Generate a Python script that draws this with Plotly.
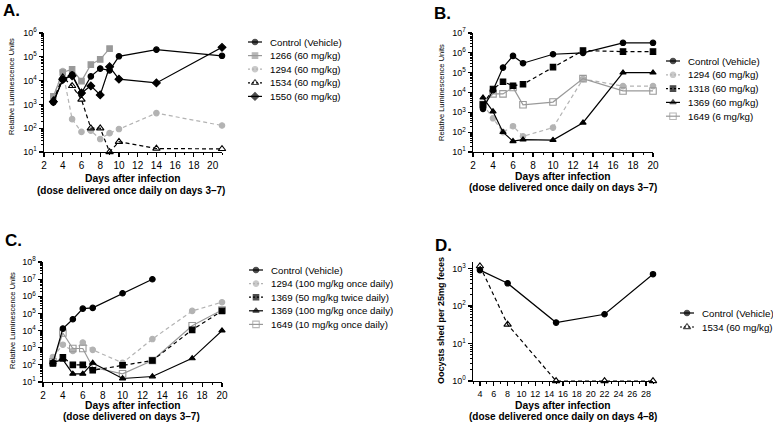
import plotly.graph_objects as go

W, H = 773, 422
FONT = "Liberation Sans, Arial, sans-serif"

# ---------------- Data ----------------
# Panel A
A_days = [3, 4, 5, 6, 7, 8, 9, 10, 14, 21]
A_days_1266 = [3, 4, 5, 6, 7, 8, 9]
A_ctrl = [1.2e3, 1.1e4, 1.8e4, 3.0e3, 1.5e4, 3.2e4, 2.7e4, 1.05e5, 2.0e5, 1.1e5]
A_1266 = [2.2e3, 2.2e4, 3.0e4, 9.5e3, 4.7e4, 7.8e4, 2.2e5]
A_1294 = [2.0e3, 2.5e4, 2.4e2, 70, 78, 35, 62, 92, 430, 130]
A_1534 = [1.5e3, 1.4e4, 6.0e3, 1.6e3, 100, 100, 10, 27, 14, 13.5]
A_1550 = [1.3e3, 1.1e4, 1.6e4, 3.0e3, 6.0e3, 2.5e3, 3.8e4, 1.15e4, 8.0e3, 2.5e5]

# Panel B
B_days = [3, 4, 5, 6, 7, 10, 13, 17, 20]
B_ctrl = [1.5e3, 1.3e4, 1.8e5, 7.0e5, 3.0e5, 8.5e5, 1.0e6, 3.2e6, 3.2e6]
B_1294 = [2.5e3, 5.0e2, 1.0e2, 2.0e2, 62, 1.7e2, 4.8e4, 2.1e4, 2.1e4]
B_1318 = [2.5e3, 1.5e4, 3.5e4, 2.2e4, 2.6e4, 1.9e5, 1.3e6, 1.15e6, 1.15e6]
B_1369 = [5.5e3, 1.1e3, 1.0e2, 35, 42, 40, 3.0e2, 1.0e5, 1.0e5]
B_1649 = [2.5e3, 8.5e3, 8.5e3, 1.8e4, 2.4e3, 3.3e3, 5.0e4, 1.2e4, 1.2e4]

# Panel C
C_days = [3, 4, 5, 6, 7, 10, 13, 17, 20]
C_days_ctrl = [3, 4, 5, 6, 7, 10, 13]
C_ctrl = [1.3e2, 1.3e4, 4.6e4, 1.9e5, 2.1e5, 1.5e6, 9.8e6]
C_1294 = [2.9e2, 1.5e3, 6.5e2, 2.0e3, 7.5e2, 1.3e2, 3.2e3, 1.4e5, 4.5e5]
C_1369_50 = [1.2e2, 2.8e2, 1.0e2, 1.0e2, 48, 95, 1.8e2, 1.1e4, 1.4e5]
C_1369_100 = [1.4e2, 2.0e2, 30, 30, 1.3e2, 16, 21, 2.4e2, 1.0e4]
C_1649 = [1.5e2, 7.2e3, 9.0e2, 9.0e2, 72, 30, 1.8e2, 1.9e4, 1.6e5]

# Panel D
D_days = [4, 8, 15, 22, 29]
D_ctrl = [900, 400, 36, 60, 700]
D_1534 = [1150, 32, 1, 1, 1]

# Tick labels
Y_EXP_A = [1, 2, 3, 4, 5, 6]
Y_EXP_B = [1, 2, 3, 4, 5, 6, 7]
Y_EXP_C = [1, 2, 3, 4, 5, 6, 7, 8]
Y_EXP_D = [0, 1, 2, 3]

# Legend labels
LEG_A = ["Control (Vehicle)", "1266 (60 mg/kg)", "1294 (60 mg/kg)", "1534 (60 mg/kg)", "1550 (60 mg/kg)"]
LEG_B = ["Control (Vehicle)", "1294 (60 mg/kg)", "1318 (60 mg/kg)", "1369 (60 mg/kg)", "1649 (6 mg/kg)"]
LEG_C = ["Control (Vehicle)", "1294 (100 mg/kg once daily)", "1369 (50 mg/kg twice daily)",
         "1369 (100 mg/kg once daily)", "1649 (10 mg/kg once daily)"]
LEG_D = ["Control (Vehicle)", "1534 (60 mg/kg)"]

# ---------------- Styles ----------------
DASH = "4px,3px"
GREY1 = "#999999"
GREY2 = "#b3b3b3"
S_CTRL = dict(color="black", symbol="circle", dash="solid", size=5.5)
S_GSQ = dict(color=GREY1, symbol="square", dash="solid", size=5.5)
S_GCI = dict(color=GREY2, symbol="circle", dash=DASH, size=5.5)
S_OTRI = dict(color="black", symbol="triangle-up-open", dash=DASH, size=6.5)
S_DIA = dict(color="black", symbol="diamond", dash="solid", size=6)
S_BSQ = dict(color="black", symbol="square", dash=DASH, size=5.5)
S_BTRI = dict(color="black", symbol="triangle-up", dash="solid", size=5.5)
S_GOSQ = dict(color=GREY1, symbol="square-open", dash="solid", size=6.5)

fig = go.Figure()


def add(x, y, s, ax):
    xa = "x" if ax == 1 else f"x{ax}"
    ya = "y" if ax == 1 else f"y{ax}"
    fig.add_trace(go.Scatter(
        x=x, y=y, mode="lines+markers", xaxis=xa, yaxis=ya, showlegend=False,
        cliponaxis=False,
        line=dict(color=s["color"], width=1.2, dash=s["dash"]),
        marker=dict(color=s["color"], symbol=s["symbol"], size=s["size"],
                    line=dict(width=1.1, color=s["color"]))))


# Panel A
add(A_days, A_1294, S_GCI, 1)
add(A_days_1266, A_1266, S_GSQ, 1)
add(A_days, A_1534, S_OTRI, 1)
add(A_days, A_1550, S_DIA, 1)
add(A_days, A_ctrl, S_CTRL, 1)
# Panel B
add(B_days, B_1294, S_GCI, 2)
add(B_days, B_1649, S_GOSQ, 2)
add(B_days, B_1318, S_BSQ, 2)
add(B_days, B_1369, S_BTRI, 2)
add(B_days, B_ctrl, S_CTRL, 2)
# Panel C
add(C_days, C_1294, S_GCI, 3)
add(C_days, C_1649, S_GOSQ, 3)
add(C_days, C_1369_50, S_BSQ, 3)
add(C_days, C_1369_100, S_BTRI, 3)
add(C_days_ctrl, C_ctrl, S_CTRL, 3)
# Panel D
add(D_days, D_1534, S_OTRI, 4)
add(D_days, D_ctrl, S_CTRL, 4)


def px(x):
    return x / W


def py(y):
    return 1 - y / H


# ---------------- Axes ----------------
def common():
    return dict(showline=True, linecolor="black", linewidth=1.4, ticks="outside",
                ticklen=4, tickwidth=1.2, tickcolor="black", showgrid=False,
                zeroline=False, automargin=False,
                tickfont=dict(size=10, color="black", family=FONT))


def xax(dom, rng, anchor, fsize=10):
    d = common()
    d.update(domain=[px(dom[0]), px(dom[1])], range=rng, tickmode="linear",
             tick0=0, dtick=2, anchor=anchor,
             tickfont=dict(size=fsize, color="black", family=FONT),
             minor=dict(ticks="outside", ticklen=2, tickwidth=1, tickcolor="black",
                        tickmode="linear", tick0=0, dtick=1))
    return d


def yax(dom, exps, rng, anchor):
    d = common()
    minor_vals = [m * 10 ** e for e in exps[:-1] for m in range(2, 10)]
    d.update(domain=[py(dom[1]), py(dom[0])], type="log", range=rng, anchor=anchor,
             tickmode="array", tickvals=[10 ** e for e in exps],
             ticktext=[f"10<sup>{e}</sup>" for e in exps],
             tickfont=dict(size=9, color="black", family=FONT),
             minor=dict(ticks="outside", ticklen=2, tickwidth=1, tickcolor="black",
                        tickmode="array", tickvals=minor_vals))
    return d


PA = (44, 222, 33, 152)
PB = (473, 653, 33, 152)
PC = (43, 222, 262, 382)
PD = (473, 653, 262, 381)

fig.update_layout(
    template="none",
    hovermode=False,
    xaxis=xax(PA[:2], [2, 21], "y"),
    yaxis=yax(PA[2:], Y_EXP_A, [1, 6], "x"),
    xaxis2=xax(PB[:2], [2, 20], "y2"),
    yaxis2=yax(PB[2:], Y_EXP_B, [1, 7], "x2"),
    xaxis3=xax(PC[:2], [2, 20], "y3"),
    yaxis3=yax(PC[2:], Y_EXP_C, [1, 8], "x3"),
    xaxis4=xax(PD[:2], [3, 29], "y4", 9),
    yaxis4=yax(PD[2:], Y_EXP_D, [0, 3.17], "x4"),
    xaxis5=dict(domain=[0, 1], range=[0, W], visible=False, fixedrange=True,
                anchor="y5", automargin=False),
    yaxis5=dict(domain=[0, 1], range=[H, 0], visible=False, fixedrange=True,
                anchor="x5", automargin=False),
)

ann = []


def text(x, y, t, size=10, bold=False, anchor="left", angle=0):
    ann.append(dict(x=px(x), y=py(y), xref="paper", yref="paper", text=(f"<b>{t}</b>" if bold else t),
                    showarrow=False, xanchor=anchor, yanchor="middle", textangle=angle,
                    font=dict(size=size, color="black", family=FONT)))


# Panel letters
text(1, 11, "A.", 17, True)
text(432, 13, "B.", 17, True)
text(3, 240, "C.", 17, True)
text(433, 245, "D.", 17, True)

# Y axis titles
text(12, 87, "Relative Luminescence Units", 7.5, anchor="center", angle=-90)
text(441, 93, "Relative Luminescence Units", 7.5, anchor="center", angle=-90)
text(12, 321, "Relative Luminescence Units", 7.5, anchor="center", angle=-90)
text(441, 321, "Oocysts shed per 25mg feces", 9, True, anchor="center", angle=-90)

# X axis titles
text(133, 178, "Days after infection", 10.3, True, anchor="center")
text(131, 191, "(dose delivered once daily on days 3\u20137)", 10, True, anchor="center")
text(563, 176, "Days after infection", 10.3, True, anchor="center")
text(563, 188, "(dose delivered once daily on days 3\u20137)", 10, True, anchor="center")
text(133, 405, "Days after infection", 10.3, True, anchor="center")
text(131, 416.5, "(dose delivered on days 3\u20137)", 10, True, anchor="center")
text(563, 405, "Days after infection", 10.3, True, anchor="center")
text(563, 416.5, "(dose delivered once daily on days 4\u20138)", 10, True, anchor="center")


# Legends (drawn on the overlay axis, rows computed from legend origin + spacing)
def legend(x0, y0, dy, labels, styles):
    for i, (lab, s) in enumerate(zip(labels, styles)):
        yy = y0 + i * dy
        fig.add_trace(go.Scatter(
            x=[x0, x0 + 7, x0 + 14], y=[yy, yy, yy], mode="lines+markers",
            xaxis="x5", yaxis="y5", showlegend=False, hoverinfo="skip", cliponaxis=False,
            line=dict(color=s["color"], width=1.2, dash=("2px,2px" if s["dash"] != "solid" else "solid")),
            marker=dict(color=s["color"], symbol=s["symbol"], size=[0, s["size"], 0],
                        line=dict(width=1.1, color=s["color"]))))
        text(x0 + 20, yy, lab, 9.7)


legend(248, 42, 13.6, LEG_A, [S_CTRL, S_GSQ, S_GCI, S_OTRI, S_DIA])
legend(666, 61, 13.8, LEG_B, [S_CTRL, S_GCI, S_BSQ, S_BTRI, S_GOSQ])
legend(249, 270, 13.6, LEG_C, [S_CTRL, S_GCI, S_BSQ, S_BTRI, S_GOSQ])
legend(680, 313, 14, LEG_D, [S_CTRL, S_OTRI])

fig.update_layout(width=W, height=H, margin=dict(l=0, r=0, t=0, b=0, pad=0),
                  paper_bgcolor="white", plot_bgcolor="rgba(0,0,0,0)", annotations=ann,
                  font=dict(family=FONT, color="black"))

fig.write_html("out.html", config={"displayModeBar": False, "staticPlot": True},
               post_script="document.body.style.margin='0px';document.body.style.overflow='hidden';")
